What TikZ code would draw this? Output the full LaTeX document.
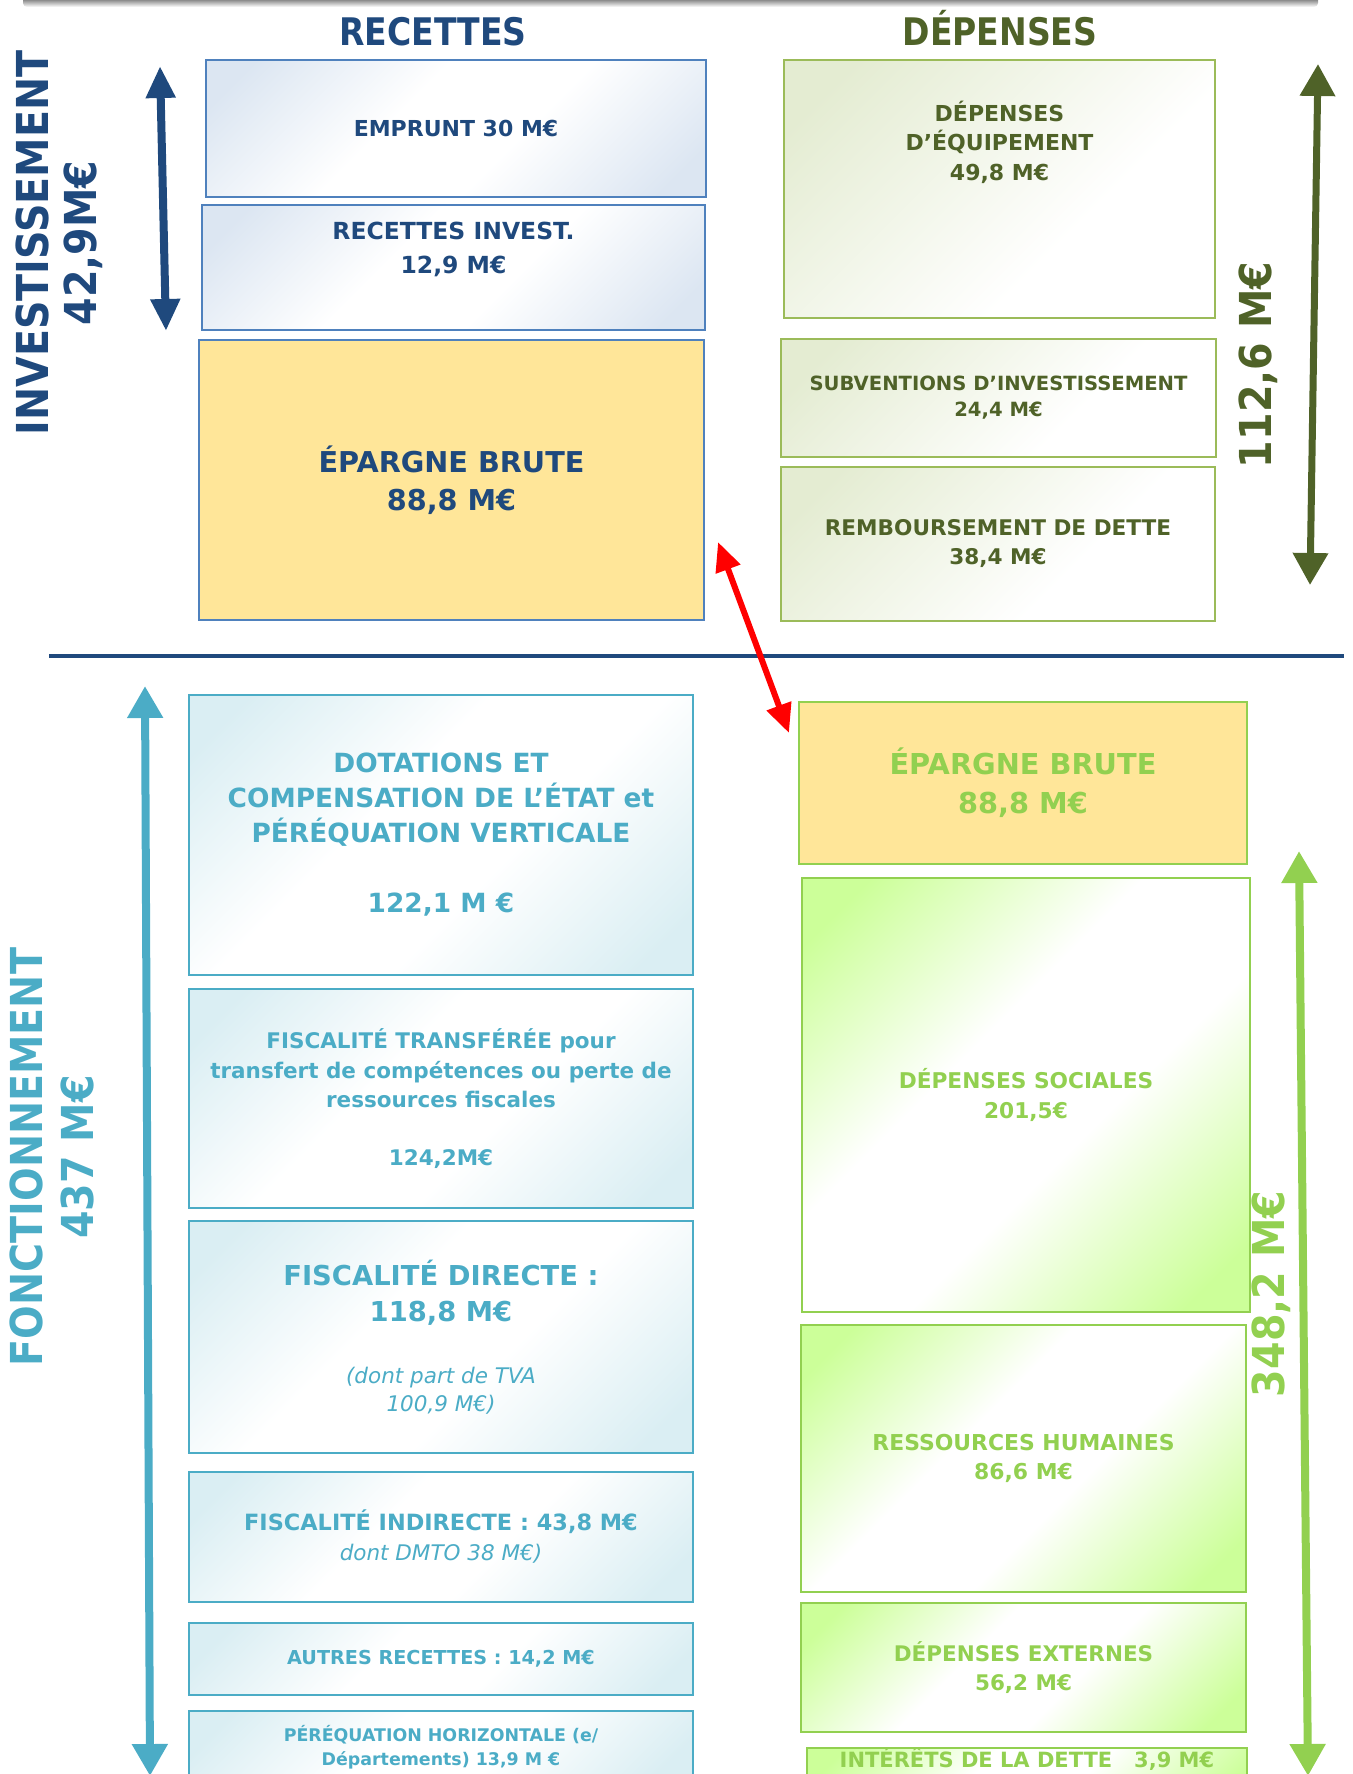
\documentclass[tikz,border=0pt]{standalone}
\usepackage{fontspec}
\setmainfont{DejaVu Sans}
\newfontfamily\titlefont[FakeStretch=0.87]{DejaVu Sans}
\newfontfamily\sidefont[FakeStretch=0.9]{DejaVu Sans}
\usetikzlibrary{arrows.meta}

\definecolor{darkblue}{HTML}{1F497D}
\definecolor{midblue}{HTML}{4F81BD}
\definecolor{invgreen}{HTML}{4F6228}
\definecolor{invline}{HTML}{9BBB59}
\definecolor{foncblue}{HTML}{4BACC6}
\definecolor{foncgreen}{HTML}{92D050}
\definecolor{savings}{HTML}{FFE699}
\definecolor{bluetint}{HTML}{DCE6F2}
\definecolor{invtint}{HTML}{E4ECD2}
\definecolor{cyantint}{HTML}{DAEEF3}
\definecolor{greentint}{HTML}{CCFF99}

\pgfdeclarehorizontalshading{bluediag}{100bp}{color(0bp)=(bluetint); color(20bp)=(bluetint); color(42bp)=(white); color(58bp)=(white); color(80bp)=(bluetint); color(100bp)=(bluetint)}
\pgfdeclarehorizontalshading{invdiag}{100bp}{color(0bp)=(invtint); color(22bp)=(invtint); color(62bp)=(white); color(100bp)=(white)}
\pgfdeclarehorizontalshading{cyandiag}{100bp}{color(0bp)=(cyantint); color(20bp)=(cyantint); color(42bp)=(white); color(58bp)=(white); color(80bp)=(cyantint); color(100bp)=(cyantint)}
\pgfdeclarehorizontalshading{greendiag}{100bp}{color(0bp)=(greentint); color(20bp)=(greentint); color(42bp)=(white); color(58bp)=(white); color(80bp)=(greentint); color(100bp)=(greentint)}

\begin{document}
\begin{tikzpicture}[x=1pt, y=-1pt,
  budgetbox/.style={anchor=north west, align=center, inner sep=0pt, line width=2pt, shade, shading angle=-45},
  invrec/.style={budgetbox, draw=midblue, shading=bluediag, text=darkblue},
  invdep/.style={budgetbox, draw=invline, shading=invdiag, text=invgreen},
  foncrec/.style={budgetbox, draw=foncblue, shading=cyandiag, text=foncblue},
  foncdep/.style={budgetbox, draw=foncgreen, shading=greendiag, text=foncgreen},
  savebox/.style={anchor=north west, align=center, inner sep=0pt, line width=2pt, fill=savings},
  coltitle/.style={anchor=base, font=\titlefont\fontsize{38}{42}\selectfont\bfseries},
  sidelabel/.style={rotate=90, inner sep=0pt, font=\sidefont\fontsize{44}{48}\selectfont\bfseries},
  budgetarrow/.style={line width=8pt, {Triangle[width=34pt,length=32pt]}-{Triangle[width=34pt,length=32pt]}}
]
\useasboundingbox (0,0) rectangle (1352,1774);
\clip (0,0) rectangle (1352,1774);

%%% bandeau du haut %%%
\shade[top color=black!70, bottom color=white, rounded corners=4pt] (23,-4) rectangle (1318,7);

\node[coltitle, text=darkblue] (rectitle) at (433,46) {RECETTES};
\node[coltitle, text=invgreen] (deptitle) at (1000,46) {DÉPENSES};

%%% investissement : recettes %%%
\node[invrec, minimum width=500pt, minimum height=137pt, font=\fontsize{22}{29}\selectfont\bfseries] (emprunt) at (205,59) {EMPRUNT 30 M€};
\node[invrec, minimum width=503pt, minimum height=125pt, font=\fontsize{23.5}{34}\selectfont\bfseries] (recinv) at (201,204) {RECETTES INVEST.\\12,9 M€\\[6pt]\mbox{}};
\node[savebox, draw=midblue, text=darkblue, minimum width=505pt, minimum height=280pt, font=\fontsize{28.7}{38}\selectfont\bfseries] (epargneL) at (198,339) {ÉPARGNE BRUTE\\88,8 M€};

%%% investissement : depenses %%%
\node[invdep, minimum width=431pt, minimum height=258pt, font=\fontsize{22}{29.5}\selectfont\bfseries] (depeq) at (783,59) {DÉPENSES\\D’ÉQUIPEMENT\\49,8 M€\\[67pt]\mbox{}};
\node[invdep, minimum width=435pt, minimum height=118pt, font=\fontsize{19.6}{26}\selectfont\bfseries] (subv) at (780,338) {SUBVENTIONS D’INVESTISSEMENT\\24,4 M€};
\node[invdep, minimum width=434pt, minimum height=154pt, font=\fontsize{21.6}{29}\selectfont\bfseries] (remb) at (780,466) {REMBOURSEMENT DE DETTE\\38,4 M€};

\node[sidelabel, text=darkblue] (invtitle) at (32,243) {INVESTISSEMENT};
\node[sidelabel, text=darkblue] (invrectot) at (83,243) {42,9M€};
\node[sidelabel, text=invgreen] (invdeptot) at (1258,365) {112,6 M€};

\coordinate (invtop) at (160,66);
\coordinate (invbot) at (166,331);
\coordinate (deptop) at (1318,64);
\coordinate (depbot) at (1310,585);
\draw[budgetarrow, darkblue, {Triangle[width=28pt,length=32pt]}-{Triangle[width=28pt,length=32pt]}, line width=8pt] (invtop) -- (invbot);
\draw[budgetarrow, invgreen, line width=7pt] (deptop) -- (depbot);

%% separation
\coordinate (sepL) at (49,656);
\coordinate (sepR) at (1344,656);
\draw[darkblue, line width=3.5pt] (sepL) -- (sepR);

%%% fonctionnement : recettes %%%
\node[foncrec, minimum width=504pt, minimum height=280pt, font=\fontsize{26.4}{35}\selectfont\bfseries] (dotations) at (188,694) {DOTATIONS ET\\COMPENSATION DE L’ÉTAT et\\PÉRÉQUATION VERTICALE\\[35pt]122,1 M €};
\node[foncrec, minimum width=504pt, minimum height=219pt, font=\fontsize{21.5}{29.5}\selectfont\bfseries] (fisctrans) at (188,988) {FISCALITÉ TRANSFÉRÉE pour\\transfert de compétences ou perte de\\ressources fiscales\\[28pt]124,2M€};
\node[foncrec, minimum width=504pt, minimum height=232pt, font=\fontsize{27.4}{36}\selectfont\bfseries] (fiscdir) at (188,1220) {FISCALITÉ DIRECTE :\\118,8 M€\\[26pt]{\mdseries\itshape\fontsize{21.5}{36}\selectfont (dont part de TVA}\\[-8pt]{\mdseries\itshape\fontsize{21.5}{36}\selectfont 100,9 M€)}};
\node[foncrec, minimum width=504pt, minimum height=130pt, font=\fontsize{22.4}{30}\selectfont\bfseries] (fiscind) at (188,1471) {FISCALITÉ INDIRECTE : 43,8 M€\\{\mdseries\itshape\fontsize{21.5}{30}\selectfont dont DMTO 38 M€)}};
\node[foncrec, minimum width=504pt, minimum height=72pt, font=\fontsize{19.2}{26}\selectfont\bfseries] (autres) at (188,1622) {AUTRES RECETTES : 14,2 M€};
\node[foncrec, minimum width=504pt, minimum height=72pt, font=\fontsize{17.4}{24}\selectfont\bfseries] (perhor) at (188,1710) {PÉRÉQUATION HORIZONTALE (e/\\Départements) 13,9 M €};

%%% fonctionnement : depenses %%%
\node[savebox, draw=foncgreen, text=foncgreen, minimum width=448pt, minimum height=162pt, font=\fontsize{28.8}{39}\selectfont\bfseries] (epargneR) at (798,701) {ÉPARGNE BRUTE\\88,8 M€};
\node[foncdep, minimum width=448pt, minimum height=434pt, font=\fontsize{21.7}{30}\selectfont\bfseries] (depsoc) at (801,877) {DÉPENSES SOCIALES\\201,5€};
\node[foncdep, minimum width=445pt, minimum height=267pt, font=\fontsize{21.9}{29}\selectfont\bfseries] (rh) at (800,1324) {RESSOURCES HUMAINES\\86,6 M€};
\node[foncdep, minimum width=445pt, minimum height=129pt, font=\fontsize{21.5}{29}\selectfont\bfseries] (depext) at (800,1602) {DÉPENSES EXTERNES\\56,2 M€};
\node[foncdep, minimum width=440pt, minimum height=60pt, text height=19pt, text depth=40pt, font=\fontsize{21}{29}\selectfont\bfseries] (interets) at (806,1747) {INTÉRÊTS DE LA DETTE\ \ \ 3,9 M€};

\node[sidelabel, text=foncblue] (fonctitle) at (26,1157) {FONCTIONNEMENT};
\node[sidelabel, text=foncblue] (foncrectot) at (77,1157) {437 M€};
\node[sidelabel, text=foncgreen] (foncdeptot) at (1271,1294) {348,2 M€};

\coordinate (fonctop) at (145,686);
\coordinate (foncbot) at (150,1776);
\coordinate (fdeptop) at (1299,851);
\coordinate (fdepbot) at (1308,1776);
\draw[budgetarrow, foncblue] (fonctop) -- (foncbot);
\draw[budgetarrow, foncgreen] (fdeptop) -- (fdepbot);

%% epargne brute : lien
\draw[red, line width=6pt, {Triangle[width=25pt,length=29pt]}-{Triangle[width=25pt,length=29pt]}] ([shift={(13,-79)}]epargneL.south east) -- ([shift={(-9,32)}]epargneR.north west);

\end{tikzpicture}
\end{document}
